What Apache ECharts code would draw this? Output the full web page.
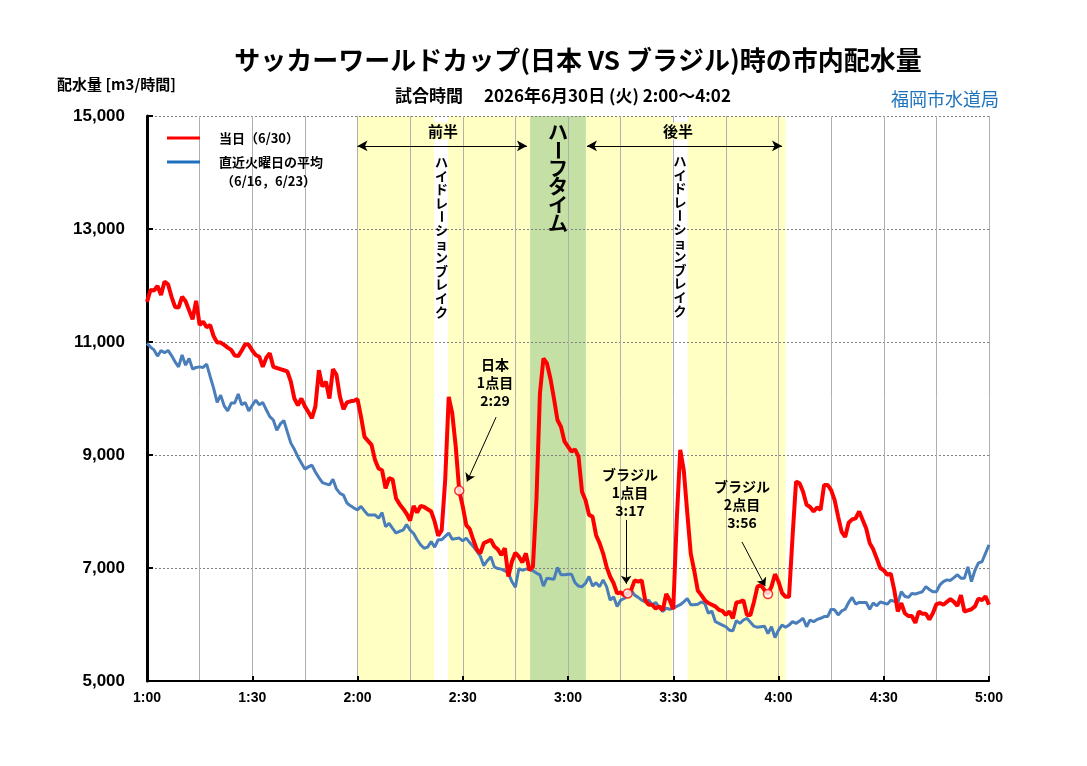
<!DOCTYPE html>
<html>
<head>
<meta charset="utf-8">
<title>サッカーワールドカップ時の市内配水量</title>
<script src="https://cdn.jsdelivr.net/npm/echarts@6/dist/echarts.min.js"></script>
<style>
  html, body { margin: 0; padding: 0; background: #fff; }
  #chart { width: 1087px; height: 766px; }
</style>
</head>
<body>
<div id="chart"></div>
<script>
// x軸は 1:00 からの経過分（0〜240）、1分ごとの配水量
const timeLabels = ["1:00", "1:30", "2:00", "2:30", "3:00", "3:30", "4:00", "4:30", "5:00"];

// 当日 (6/30)
const today = [
  11710, 11920, 11910, 11990, 11830, 12070, 12020, 11800, 11620, 11610,
  11800, 11720, 11560, 11400, 11730, 11300, 11360, 11260, 11300, 11100,
  10990, 10990, 10950, 10900, 10860, 10760, 10750, 10850, 10960, 10950,
  10850, 10770, 10740, 10560, 10720, 10800, 10560, 10540, 10520, 10500,
  10480, 10300, 10000, 9880, 10000, 9860, 9760, 9650, 9860, 10500,
  10210, 10300, 10000, 10520, 10420, 10030, 9810, 9930, 9950, 9960,
  9990, 9680, 9320, 9250, 9180, 8910, 8760, 8730, 8410, 8590,
  8570, 8230, 8130, 8050, 7960, 7840, 8100, 7980, 8100, 8080,
  8040, 8000, 7820, 7570, 7670, 8560, 10030, 9740, 9150, 8370,
  8090, 7760, 7690, 7500, 7330, 7260, 7440, 7470, 7500, 7380,
  7330, 7230, 7350, 6850, 7110, 7270, 7200, 7100, 7260, 6960,
  7020, 8200, 10090, 10710, 10620, 10350, 10000, 9620, 9500, 9240,
  9150, 9060, 9100, 8970, 8350, 8200, 7940, 7910, 7580, 7440,
  7260, 7020, 6850, 6730, 6550, 6570, 6520, 6550, 6610, 6780,
  6760, 6780, 6430, 6350, 6350, 6280, 6320, 6250, 6540, 6430,
  6270, 7850, 9090, 8730, 7970, 7250, 6950, 6600, 6520, 6430,
  6380, 6350, 6320, 6260, 6240, 6170, 6230, 6110, 6390, 6400,
  6430, 6170, 6170, 6400, 6670, 6700, 6610, 6540, 6670, 6890,
  6760, 6560, 6490, 6490, 7550, 8530, 8500, 8350, 8120, 8080,
  8000, 8070, 8030, 8470, 8470, 8380, 8200, 7910, 7640, 7550,
  7800, 7860, 7880, 8000, 7850, 7700, 7440, 7330, 7170, 7000,
  6960, 6880, 6900, 6610, 6230, 6380, 6200, 6150, 6150, 6030,
  6230, 6190, 6190, 6090, 6200, 6360, 6380, 6350, 6400, 6450,
  6400, 6330, 6520, 6230, 6250, 6270, 6320, 6460, 6430, 6500,
  6350
];

// 直近火曜日の平均 (6/16, 6/23)
const average = [
  10980, 10910, 10860, 10750, 10850, 10810, 10850, 10760, 10650, 10560,
  10770, 10590, 10710, 10520, 10550, 10560, 10550, 10610, 10390, 10180,
  9930, 10060, 9870, 9780, 9920, 9920, 10080, 9890, 9930, 9780,
  9880, 9970, 9890, 9930, 9800, 9680, 9620, 9440, 9550, 9610,
  9410, 9210, 9100, 8970, 8860, 8750, 8790, 8820, 8700, 8600,
  8510, 8490, 8470, 8570, 8400, 8320, 8290, 8150, 8100, 8060,
  8030, 8090, 8010, 7940, 7940, 7940, 7880, 7980, 7730, 7790,
  7700, 7620, 7650, 7670, 7770, 7670, 7610, 7500, 7410, 7350,
  7370, 7470, 7370, 7500, 7500, 7560, 7620, 7510, 7520, 7530,
  7480, 7530, 7450, 7380, 7300, 7210, 7040, 7130, 7200, 7020,
  6990, 6980, 6950, 6910, 6760, 6660, 6990, 6960, 6980, 6990,
  6950, 6910, 6880, 6680, 6820, 6810, 6800, 7010, 6880, 6880,
  6890, 6890, 6740, 6680, 6670, 6730, 6850, 6680, 6740, 6670,
  6790, 6670, 6430, 6490, 6320, 6430, 6460, 6510, 6610, 6520,
  6480, 6430, 6400, 6430, 6350, 6390, 6300, 6230, 6290, 6270,
  6290, 6320, 6350, 6400, 6460, 6350, 6350, 6360, 6400, 6370,
  6200, 6240, 6050, 6020, 5990, 5960, 5900, 5890, 6070, 6020,
  6080, 6110, 6040, 5970, 5950, 5960, 5970, 5840, 5960, 5770,
  5900, 5990, 5950, 5990, 6050, 6020, 6060, 6110, 5960, 6080,
  6050, 6090, 6110, 6140, 6140, 6270, 6260, 6170, 6240, 6270,
  6390, 6480, 6360, 6390, 6390, 6390, 6270, 6380, 6330, 6400,
  6380, 6360, 6430, 6410, 6390, 6580, 6500, 6480, 6550, 6540,
  6560, 6580, 6670, 6620, 6580, 6580, 6700, 6760, 6790, 6780,
  6830, 6880, 6820, 6820, 7020, 6760, 6960, 7090, 7110, 7260,
  7410
];

// 得点（経過分）
const goalMinutes = [89, 137, 177];
const goalLabels = ["日本\n1点目\n2:29", "ブラジル\n1点目\n3:17", "ブラジル\n2点目\n3:56"];

// 試合時間帯（経過分）
const playBands = [[60, 81.8], [85.8, 109.2], [125.1, 149.7], [154.1, 182]];
const halfTimeBand = [109.2, 125.1];

const FONT = '"Noto Sans CJK JP", "Noto Sans", sans-serif';
const RED = "#ff0000";
const BLUE = "#4a7ebb";

let chart = echarts.init(document.getElementById("chart"));

// 縦書き（1文字ずつ並べる、長音は回転）
function verticalText(str, x, y0, step, size) {
  let els = [];
  Array.from(str).forEach((ch, i) => {
    els.push({
      type: "text",
      x: x,
      y: y0 + i * step,
      rotation: ch === "ー" ? -Math.PI / 2 : 0,
      z: 20,
      style: {
        text: ch,
        font: "bold " + size + "px " + FONT,
        fill: "#000",
        align: "center",
        verticalAlign: "middle"
      }
    });
  });
  return els;
}

let annotationPos = [[495, 383], [630, 493], [742, 505]];
let graphics = [
  {
    type: "text", x: 578, y: 60, z: 20,
    style: { text: "サッカーワールドカップ(日本 VS ブラジル)時の市内配水量", font: "bold 26px " + FONT, fill: "#000", align: "center", verticalAlign: "middle" }
  },
  {
    type: "text", x: 563, y: 96, z: 20,
    style: { text: "試合時間　 2026年6月30日 (火) 2:00～4:02", font: "bold 17px " + FONT, fill: "#000", align: "center", verticalAlign: "middle" }
  },
  {
    type: "text", x: 57, y: 84, z: 20,
    style: { text: "配水量 [m3/時間]", font: "bold 15px " + FONT, fill: "#000", align: "left", verticalAlign: "middle" }
  },
  {
    type: "text", x: 999, y: 99, z: 20,
    style: { text: "福岡市水道局", font: "18px " + FONT, fill: "#1e73be", align: "right", verticalAlign: "middle" }
  },
  // 凡例
  { type: "line", z: 20, shape: { x1: 167, y1: 138, x2: 200, y2: 138 }, style: { stroke: RED, lineWidth: 3 } },
  { type: "line", z: 20, shape: { x1: 167, y1: 162, x2: 200, y2: 162 }, style: { stroke: "#1f6fbf", lineWidth: 3 } },
  {
    type: "text", x: 219, y: 138, z: 20,
    style: { text: "当日（6/30）", font: "bold 13px " + FONT, fill: "#000", verticalAlign: "middle" }
  },
  {
    type: "text", x: 219, y: 162, z: 20,
    style: { text: "直近火曜日の平均", font: "bold 13px " + FONT, fill: "#000", verticalAlign: "middle" }
  },
  {
    type: "text", x: 221, y: 181, z: 20,
    style: { text: "（6/16，6/23）", font: "bold 13px " + FONT, fill: "#000", verticalAlign: "middle" }
  },
  // 前半・後半
  {
    type: "text", x: 443, y: 131, z: 20,
    style: { text: "前半", font: "bold 15px " + FONT, fill: "#000", align: "center", verticalAlign: "middle", backgroundColor: "#ffffc4", padding: [1, 2] }
  },
  {
    type: "text", x: 678, y: 131, z: 20,
    style: { text: "後半", font: "bold 15px " + FONT, fill: "#000", align: "center", verticalAlign: "middle", backgroundColor: "#ffffc4", padding: [1, 2] }
  }
];
graphics = graphics.concat(verticalText("ハイドレーションブレイク", 441.5, 162, 13.6, 13));
graphics = graphics.concat(verticalText("ハイドレーションブレイク", 680, 161, 13.6, 13));
graphics = graphics.concat(verticalText("ハーフタイム", 558, 132, 18.3, 20));
goalLabels.forEach((t, i) => {
  graphics.push({
    type: "text", x: annotationPos[i][0], y: annotationPos[i][1], z: 20,
    style: { text: t, font: "bold 14px " + FONT, fill: "#000", align: "center", verticalAlign: "middle", lineHeight: 18 }
  });
});

let bandAreas = playBands.map(b => [
  { xAxis: b[0], itemStyle: { color: "#ffffc4" } },
  { xAxis: b[1] }
]);
bandAreas.push([
  { xAxis: halfTimeBand[0], itemStyle: { color: "#c5e0a4" } },
  { xAxis: halfTimeBand[1] }
]);

chart.setOption({
  animation: false,
  backgroundColor: "#fff",
  textStyle: { fontFamily: FONT },
  grid: { left: 147, right: 98, top: 116, bottom: 85 },
  xAxis: {
    type: "value",
    min: 0,
    max: 240,
    interval: 30,
    z: 2,
    axisLine: { lineStyle: { color: "#000", width: 2 } },
    axisTick: { inside: true, length: 5, lineStyle: { color: "#000", width: 2 } },
    axisLabel: {
      formatter: v => timeLabels[Math.round(v / 30)],
      color: "#000",
      fontSize: 14,
      fontWeight: "bold",
      fontFamily: "Liberation Sans",
      margin: 10
    },
    splitLine: { show: true, lineStyle: { color: "#b0b0b0", width: 1 } },
    minorTick: { show: false, splitNumber: 2 },
    minorSplitLine: { show: true, lineStyle: { color: "#b0b0b0", width: 1 } }
  },
  yAxis: {
    type: "value",
    min: 5000,
    max: 15000,
    interval: 2000,
    z: 2,
    axisLine: { show: true, lineStyle: { color: "#000", width: 3 } },
    axisTick: { show: true, inside: true, length: 6, lineStyle: { color: "#000", width: 2 } },
    axisLabel: {
      formatter: v => v.toLocaleString("en-US"),
      color: "#000",
      fontSize: 17,
      fontWeight: "bold",
      fontFamily: "Liberation Sans",
      margin: 22
    },
    splitLine: { lineStyle: { color: "#808080", type: [2, 2] } }
  },
  series: [
    {
      // 試合時間の網掛け
      name: "bands",
      type: "line",
      data: [],
      z: 0,
      silent: true,
      markArea: { silent: true, z: 0, data: bandAreas }
    },
    {
      name: "直近火曜日の平均（6/16，6/23）",
      type: "line",
      data: average.map((v, i) => [i, v]),
      showSymbol: false,
      symbol: "none",
      lineStyle: { color: BLUE, width: 3 },
      z: 3
    },
    {
      name: "当日（6/30）",
      type: "line",
      data: today.map((v, i) => [i, v]),
      showSymbol: false,
      symbol: "none",
      lineStyle: { color: RED, width: 4 },
      z: 4,
      markLine: {
        silent: true,
        symbol: ["arrow", "arrow"],
        symbolSize: [8, 10],
        label: { show: false },
        lineStyle: { color: "#000", width: 1.2, type: "solid" },
        data: [
          [{ coord: [60, 14470] }, { coord: [108.3, 14470] }],
          [{ coord: [125.4, 14470] }, { coord: [181, 14470] }]
        ]
      }
    },
    {
      // 得点の矢印
      name: "goalArrows",
      type: "line",
      data: [],
      z: 5,
      markLine: {
        silent: true,
        symbol: ["none", "arrow"],
        symbolSize: 8,
        label: { show: false },
        lineStyle: { color: "#000", width: 1, type: "solid" },
        data: [
          [{ coord: [99.5, 9670] }, { coord: [91.2, 8530] }],
          [{ coord: [136.5, 7850] }, { coord: [136.6, 6720] }],
          [{ coord: [169.6, 7460] }, { coord: [176.2, 6680] }]
        ]
      }
    },
    {
      name: "goals",
      type: "scatter",
      data: goalMinutes.map(t => [t, today[t]]),
      symbol: "circle",
      symbolSize: 9,
      itemStyle: { color: "#fff", borderColor: RED, borderWidth: 1.5 },
      z: 6
    }
  ],
  graphic: graphics
});
</script>
</body>
</html>
